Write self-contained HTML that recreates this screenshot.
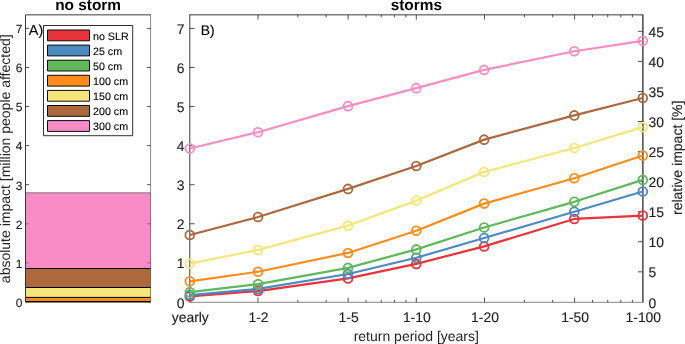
<!DOCTYPE html>
<html lang="en"><head><meta charset="utf-8"><title>Impact chart</title>
<style>html,body{margin:0;padding:0;background:#fff;overflow:hidden}svg{display:block;text-rendering:geometricPrecision}text{stroke:#222;stroke-width:0.14px}text.t,text.l{stroke:none}text.s{stroke-width:0.12px}</style></head>
<body>
<svg width="685" height="344" viewBox="0 0 685 344" font-family="'Liberation Sans', sans-serif" stroke-linejoin="round">
<rect width="685" height="344" fill="#fff"/>
<g id="left-plot">
<line x1="25.5" x2="29.0" y1="301.90" y2="301.90" stroke="#262626" stroke-width="0.8"/>
<line x1="150.6" x2="147.1" y1="301.90" y2="301.90" stroke="#262626" stroke-width="0.8"/>
<line x1="25.5" x2="29.0" y1="262.83" y2="262.83" stroke="#262626" stroke-width="0.8"/>
<line x1="150.6" x2="147.1" y1="262.83" y2="262.83" stroke="#262626" stroke-width="0.8"/>
<line x1="25.5" x2="29.0" y1="223.76" y2="223.76" stroke="#262626" stroke-width="0.8"/>
<line x1="150.6" x2="147.1" y1="223.76" y2="223.76" stroke="#262626" stroke-width="0.8"/>
<line x1="25.5" x2="29.0" y1="184.69" y2="184.69" stroke="#262626" stroke-width="0.8"/>
<line x1="150.6" x2="147.1" y1="184.69" y2="184.69" stroke="#262626" stroke-width="0.8"/>
<line x1="25.5" x2="29.0" y1="145.62" y2="145.62" stroke="#262626" stroke-width="0.8"/>
<line x1="150.6" x2="147.1" y1="145.62" y2="145.62" stroke="#262626" stroke-width="0.8"/>
<line x1="25.5" x2="29.0" y1="106.55" y2="106.55" stroke="#262626" stroke-width="0.8"/>
<line x1="150.6" x2="147.1" y1="106.55" y2="106.55" stroke="#262626" stroke-width="0.8"/>
<line x1="25.5" x2="29.0" y1="67.48" y2="67.48" stroke="#262626" stroke-width="0.8"/>
<line x1="150.6" x2="147.1" y1="67.48" y2="67.48" stroke="#262626" stroke-width="0.8"/>
<line x1="25.5" x2="29.0" y1="28.41" y2="28.41" stroke="#262626" stroke-width="0.8"/>
<line x1="150.6" x2="147.1" y1="28.41" y2="28.41" stroke="#262626" stroke-width="0.8"/>
<rect x="25.5" y="297.4" width="125.10" height="4.35" fill="#ff8c1a"/>
<rect x="25.5" y="287.5" width="125.10" height="9.90" fill="#f5e67a"/>
<rect x="25.5" y="268.5" width="125.10" height="19.00" fill="#ad683e"/>
<rect x="25.5" y="192.8" width="125.10" height="75.70" fill="#f98cc6"/>
<line x1="25.5" x2="150.6" y1="297.4" y2="297.4" stroke="#000" stroke-width="1"/>
<line x1="25.5" x2="150.6" y1="287.5" y2="287.5" stroke="#000" stroke-width="1"/>
<line x1="25.5" x2="150.6" y1="268.5" y2="268.5" stroke="#000" stroke-width="1"/>
<line x1="25.5" x2="150.6" y1="192.8" y2="192.8" stroke="#555" stroke-width="0.7"/>
<line x1="25.5" x2="150.6" y1="301.7" y2="301.7" stroke="#000" stroke-width="1.5"/>
<line x1="25.5" x2="29.0" y1="262.83" y2="262.83" stroke="#262626" stroke-width="0.8" stroke-opacity="0.5"/>
<line x1="150.6" x2="147.1" y1="262.83" y2="262.83" stroke="#262626" stroke-width="0.8" stroke-opacity="0.5"/>
<line x1="25.5" x2="29.0" y1="223.76" y2="223.76" stroke="#262626" stroke-width="0.8" stroke-opacity="0.5"/>
<line x1="150.6" x2="147.1" y1="223.76" y2="223.76" stroke="#262626" stroke-width="0.8" stroke-opacity="0.5"/>
<path d="M25.5 301.90000000000003 V14.85 H150.6" fill="none" stroke="#262626" stroke-width="0.9"/>
<line x1="150.6" x2="150.6" y1="14.45" y2="301.90000000000003" stroke="#262626" stroke-width="0.55"/>
<text x="22.4" y="306.75" class="s" font-size="12.0" fill="#222" text-anchor="end">0</text>
<text x="22.4" y="267.68" class="s" font-size="12.0" fill="#222" text-anchor="end">1</text>
<text x="22.4" y="228.61" class="s" font-size="12.0" fill="#222" text-anchor="end">2</text>
<text x="22.4" y="189.54" class="s" font-size="12.0" fill="#222" text-anchor="end">3</text>
<text x="22.4" y="150.47" class="s" font-size="12.0" fill="#222" text-anchor="end">4</text>
<text x="22.4" y="111.40" class="s" font-size="12.0" fill="#222" text-anchor="end">5</text>
<text x="22.4" y="72.33" class="s" font-size="12.0" fill="#222" text-anchor="end">6</text>
<text x="22.4" y="33.26" class="s" font-size="12.0" fill="#222" text-anchor="end">7</text>
<text x="28.8" y="35.21" font-size="14.4" fill="#000">A)</text>
<text x="88.05" y="10.1" font-size="15.4" class="t" font-weight="bold" fill="#000" text-anchor="middle">no storm</text>
<text class="l" transform="translate(10.4,158.75) rotate(-90)" font-size="14" fill="#262626" text-anchor="middle">absolute impact [million people affected]</text>
<rect x="43.5" y="25.5" width="89.2" height="110.2" fill="#fff" stroke="#262626" stroke-width="0.95"/>
<rect x="47.5" y="30.00" width="42" height="10.8" fill="#e8333a" stroke="#000" stroke-width="0.95"/>
<text x="93.0" y="39.83" font-size="10.7" fill="#000">no SLR</text>
<rect x="47.5" y="45.10" width="42" height="10.8" fill="#4a8bc2" stroke="#000" stroke-width="0.95"/>
<text x="93.0" y="54.93" font-size="10.7" fill="#000">25 cm</text>
<rect x="47.5" y="60.20" width="42" height="10.8" fill="#5fb85c" stroke="#000" stroke-width="0.95"/>
<text x="93.0" y="70.03" font-size="10.7" fill="#000">50 cm</text>
<rect x="47.5" y="75.30" width="42" height="10.8" fill="#ff8c1a" stroke="#000" stroke-width="0.95"/>
<text x="93.0" y="85.13" font-size="10.7" fill="#000">100 cm</text>
<rect x="47.5" y="90.40" width="42" height="10.8" fill="#f5e67a" stroke="#000" stroke-width="0.95"/>
<text x="93.0" y="100.23" font-size="10.7" fill="#000">150 cm</text>
<rect x="47.5" y="105.50" width="42" height="10.8" fill="#ad683e" stroke="#000" stroke-width="0.95"/>
<text x="93.0" y="115.33" font-size="10.7" fill="#000">200 cm</text>
<rect x="47.5" y="120.60" width="42" height="10.8" fill="#f98cc6" stroke="#000" stroke-width="0.95"/>
<text x="93.0" y="130.43" font-size="10.7" fill="#000">300 cm</text>
</g>
<g id="right-plot">
<line x1="189.8" x2="189.8" y1="14.45" y2="302.6" stroke="#262626" stroke-width="0.9"/>
<line x1="642.9" x2="642.9" y1="14.45" y2="302.6" stroke="#111" stroke-width="1.15"/>
<line x1="189.8" x2="642.8" y1="14.85" y2="14.85" stroke="#262626" stroke-width="0.9"/>
<line x1="189.8" x2="642.8" y1="302.3" y2="302.3" stroke="#262626" stroke-width="0.55"/>
<text x="184.60000000000002" y="307.53" font-size="13.9" fill="#222" text-anchor="end">0</text>
<line x1="189.8" x2="194.60000000000002" y1="262.83" y2="262.83" stroke="#262626" stroke-width="0.8"/>
<text x="184.60000000000002" y="268.46" font-size="13.9" fill="#222" text-anchor="end">1</text>
<line x1="189.8" x2="194.60000000000002" y1="223.76" y2="223.76" stroke="#262626" stroke-width="0.8"/>
<text x="184.60000000000002" y="229.39" font-size="13.9" fill="#222" text-anchor="end">2</text>
<line x1="189.8" x2="194.60000000000002" y1="184.69" y2="184.69" stroke="#262626" stroke-width="0.8"/>
<text x="184.60000000000002" y="190.32" font-size="13.9" fill="#222" text-anchor="end">3</text>
<line x1="189.8" x2="194.60000000000002" y1="145.62" y2="145.62" stroke="#262626" stroke-width="0.8"/>
<text x="184.60000000000002" y="151.25" font-size="13.9" fill="#222" text-anchor="end">4</text>
<line x1="189.8" x2="194.60000000000002" y1="106.55" y2="106.55" stroke="#262626" stroke-width="0.8"/>
<text x="184.60000000000002" y="112.18" font-size="13.9" fill="#222" text-anchor="end">5</text>
<line x1="189.8" x2="194.60000000000002" y1="67.48" y2="67.48" stroke="#262626" stroke-width="0.8"/>
<text x="184.60000000000002" y="73.11" font-size="13.9" fill="#222" text-anchor="end">6</text>
<line x1="189.8" x2="194.60000000000002" y1="28.41" y2="28.41" stroke="#262626" stroke-width="0.8"/>
<text x="184.60000000000002" y="34.04" font-size="13.9" fill="#222" text-anchor="end">7</text>
<text x="648.5" y="307.53" font-size="13.9" fill="#222">0</text>
<line x1="642.8" x2="638.0" y1="271.83" y2="271.83" stroke="#262626" stroke-width="0.8"/>
<text x="648.5" y="277.46" font-size="13.9" fill="#222">5</text>
<line x1="642.8" x2="638.0" y1="241.77" y2="241.77" stroke="#262626" stroke-width="0.8"/>
<text x="648.5" y="247.39" font-size="13.9" fill="#222">10</text>
<line x1="642.8" x2="638.0" y1="211.70" y2="211.70" stroke="#262626" stroke-width="0.8"/>
<text x="648.5" y="217.33" font-size="13.9" fill="#222">15</text>
<line x1="642.8" x2="638.0" y1="181.63" y2="181.63" stroke="#262626" stroke-width="0.8"/>
<text x="648.5" y="187.26" font-size="13.9" fill="#222">20</text>
<line x1="642.8" x2="638.0" y1="151.57" y2="151.57" stroke="#262626" stroke-width="0.8"/>
<text x="648.5" y="157.19" font-size="13.9" fill="#222">25</text>
<line x1="642.8" x2="638.0" y1="121.50" y2="121.50" stroke="#262626" stroke-width="0.8"/>
<text x="648.5" y="127.13" font-size="13.9" fill="#222">30</text>
<line x1="642.8" x2="638.0" y1="91.43" y2="91.43" stroke="#262626" stroke-width="0.8"/>
<text x="648.5" y="97.06" font-size="13.9" fill="#222">35</text>
<line x1="642.8" x2="638.0" y1="61.37" y2="61.37" stroke="#262626" stroke-width="0.8"/>
<text x="648.5" y="66.99" font-size="13.9" fill="#222">40</text>
<line x1="642.8" x2="638.0" y1="31.30" y2="31.30" stroke="#262626" stroke-width="0.8"/>
<text x="648.5" y="36.93" font-size="13.9" fill="#222">45</text>
<text x="190.30" y="322" font-size="13.9" fill="#222" text-anchor="middle">yearly</text>
<line x1="257.98" x2="257.98" y1="302.3" y2="297.5" stroke="#262626" stroke-width="0.8"/>
<line x1="257.98" x2="257.98" y1="14.85" y2="19.65" stroke="#262626" stroke-width="0.8"/>
<text x="258.48" y="322" font-size="13.9" fill="#222" text-anchor="middle">1-2</text>
<line x1="348.12" x2="348.12" y1="302.3" y2="297.5" stroke="#262626" stroke-width="0.8"/>
<line x1="348.12" x2="348.12" y1="14.85" y2="19.65" stroke="#262626" stroke-width="0.8"/>
<text x="348.62" y="322" font-size="13.9" fill="#222" text-anchor="middle">1-5</text>
<line x1="416.30" x2="416.30" y1="302.3" y2="297.5" stroke="#262626" stroke-width="0.8"/>
<line x1="416.30" x2="416.30" y1="14.85" y2="19.65" stroke="#262626" stroke-width="0.8"/>
<text x="416.80" y="322" font-size="13.9" fill="#222" text-anchor="middle">1-10</text>
<line x1="484.48" x2="484.48" y1="302.3" y2="297.5" stroke="#262626" stroke-width="0.8"/>
<line x1="484.48" x2="484.48" y1="14.85" y2="19.65" stroke="#262626" stroke-width="0.8"/>
<text x="484.98" y="322" font-size="13.9" fill="#222" text-anchor="middle">1-20</text>
<line x1="574.62" x2="574.62" y1="302.3" y2="297.5" stroke="#262626" stroke-width="0.8"/>
<line x1="574.62" x2="574.62" y1="14.85" y2="19.65" stroke="#262626" stroke-width="0.8"/>
<text x="575.12" y="322" font-size="13.9" fill="#222" text-anchor="middle">1-50</text>
<text x="643.30" y="322" font-size="13.9" fill="#222" text-anchor="middle">1-100</text>
<line x1="297.87" x2="297.87" y1="302.3" y2="299.90000000000003" stroke="#262626" stroke-width="0.8"/>
<line x1="297.87" x2="297.87" y1="14.85" y2="17.25" stroke="#262626" stroke-width="0.8"/>
<line x1="326.17" x2="326.17" y1="302.3" y2="299.90000000000003" stroke="#262626" stroke-width="0.8"/>
<line x1="326.17" x2="326.17" y1="14.85" y2="17.25" stroke="#262626" stroke-width="0.8"/>
<line x1="366.05" x2="366.05" y1="302.3" y2="299.90000000000003" stroke="#262626" stroke-width="0.8"/>
<line x1="366.05" x2="366.05" y1="14.85" y2="17.25" stroke="#262626" stroke-width="0.8"/>
<line x1="381.21" x2="381.21" y1="302.3" y2="299.90000000000003" stroke="#262626" stroke-width="0.8"/>
<line x1="381.21" x2="381.21" y1="14.85" y2="17.25" stroke="#262626" stroke-width="0.8"/>
<line x1="394.35" x2="394.35" y1="302.3" y2="299.90000000000003" stroke="#262626" stroke-width="0.8"/>
<line x1="394.35" x2="394.35" y1="14.85" y2="17.25" stroke="#262626" stroke-width="0.8"/>
<line x1="405.94" x2="405.94" y1="302.3" y2="299.90000000000003" stroke="#262626" stroke-width="0.8"/>
<line x1="405.94" x2="405.94" y1="14.85" y2="17.25" stroke="#262626" stroke-width="0.8"/>
<line x1="524.37" x2="524.37" y1="302.3" y2="299.90000000000003" stroke="#262626" stroke-width="0.8"/>
<line x1="524.37" x2="524.37" y1="14.85" y2="17.25" stroke="#262626" stroke-width="0.8"/>
<line x1="552.67" x2="552.67" y1="302.3" y2="299.90000000000003" stroke="#262626" stroke-width="0.8"/>
<line x1="552.67" x2="552.67" y1="14.85" y2="17.25" stroke="#262626" stroke-width="0.8"/>
<line x1="592.55" x2="592.55" y1="302.3" y2="299.90000000000003" stroke="#262626" stroke-width="0.8"/>
<line x1="592.55" x2="592.55" y1="14.85" y2="17.25" stroke="#262626" stroke-width="0.8"/>
<line x1="607.71" x2="607.71" y1="302.3" y2="299.90000000000003" stroke="#262626" stroke-width="0.8"/>
<line x1="607.71" x2="607.71" y1="14.85" y2="17.25" stroke="#262626" stroke-width="0.8"/>
<line x1="620.85" x2="620.85" y1="302.3" y2="299.90000000000003" stroke="#262626" stroke-width="0.8"/>
<line x1="620.85" x2="620.85" y1="14.85" y2="17.25" stroke="#262626" stroke-width="0.8"/>
<line x1="632.44" x2="632.44" y1="302.3" y2="299.90000000000003" stroke="#262626" stroke-width="0.8"/>
<line x1="632.44" x2="632.44" y1="14.85" y2="17.25" stroke="#262626" stroke-width="0.8"/>
<text x="416.30" y="10.1" font-size="15.4" class="t" font-weight="bold" fill="#000" text-anchor="middle">storms</text>
<text class="l" x="416.3" y="340.7" font-size="14" fill="#262626" text-anchor="middle">return period [years]</text>
<text class="s" transform="translate(682.4,157.8) rotate(-90)" font-size="14" fill="#262626" text-anchor="middle">relative impact [%]</text>
<text x="200.8" y="35.21" font-size="13.9" fill="#000">B)</text>
<polyline points="189.80,296.44 258.05,291.04 348.00,278.42 416.30,263.90 484.15,246.38 574.30,218.94 642.80,215.54" fill="none" stroke="#e8333a" stroke-width="2.2" stroke-linejoin="round"/>
<circle cx="189.80" cy="296.44" r="4.4" fill="none" stroke="#e8333a" stroke-width="1.8"/>
<circle cx="258.05" cy="291.04" r="4.4" fill="none" stroke="#e8333a" stroke-width="1.8"/>
<circle cx="348.00" cy="278.42" r="4.4" fill="none" stroke="#e8333a" stroke-width="1.8"/>
<circle cx="416.30" cy="263.90" r="4.4" fill="none" stroke="#e8333a" stroke-width="1.8"/>
<circle cx="484.15" cy="246.38" r="4.4" fill="none" stroke="#e8333a" stroke-width="1.8"/>
<circle cx="574.30" cy="218.94" r="4.4" fill="none" stroke="#e8333a" stroke-width="1.8"/>
<circle cx="642.80" cy="215.54" r="4.4" fill="none" stroke="#e8333a" stroke-width="1.8"/>
<polyline points="189.80,295.04 258.05,288.93 348.00,274.01 416.30,257.79 484.15,237.97 574.30,211.73 642.80,191.45" fill="none" stroke="#4a8bc2" stroke-width="2.2" stroke-linejoin="round"/>
<circle cx="189.80" cy="295.04" r="4.4" fill="none" stroke="#4a8bc2" stroke-width="1.8"/>
<circle cx="258.05" cy="288.93" r="4.4" fill="none" stroke="#4a8bc2" stroke-width="1.8"/>
<circle cx="348.00" cy="274.01" r="4.4" fill="none" stroke="#4a8bc2" stroke-width="1.8"/>
<circle cx="416.30" cy="257.79" r="4.4" fill="none" stroke="#4a8bc2" stroke-width="1.8"/>
<circle cx="484.15" cy="237.97" r="4.4" fill="none" stroke="#4a8bc2" stroke-width="1.8"/>
<circle cx="574.30" cy="211.73" r="4.4" fill="none" stroke="#4a8bc2" stroke-width="1.8"/>
<circle cx="642.80" cy="191.45" r="4.4" fill="none" stroke="#4a8bc2" stroke-width="1.8"/>
<polyline points="189.80,292.14 258.05,284.13 348.00,267.91 416.30,249.38 484.15,227.45 574.30,201.82 642.80,179.89" fill="none" stroke="#5fb85c" stroke-width="2.2" stroke-linejoin="round"/>
<circle cx="189.80" cy="292.14" r="4.4" fill="none" stroke="#5fb85c" stroke-width="1.8"/>
<circle cx="258.05" cy="284.13" r="4.4" fill="none" stroke="#5fb85c" stroke-width="1.8"/>
<circle cx="348.00" cy="267.91" r="4.4" fill="none" stroke="#5fb85c" stroke-width="1.8"/>
<circle cx="416.30" cy="249.38" r="4.4" fill="none" stroke="#5fb85c" stroke-width="1.8"/>
<circle cx="484.15" cy="227.45" r="4.4" fill="none" stroke="#5fb85c" stroke-width="1.8"/>
<circle cx="574.30" cy="201.82" r="4.4" fill="none" stroke="#5fb85c" stroke-width="1.8"/>
<circle cx="642.80" cy="179.89" r="4.4" fill="none" stroke="#5fb85c" stroke-width="1.8"/>
<polyline points="189.80,281.32 258.05,271.71 348.00,252.94 416.30,230.76 484.15,203.62 574.30,178.29 642.80,155.46" fill="none" stroke="#ff8c1a" stroke-width="2.2" stroke-linejoin="round"/>
<circle cx="189.80" cy="281.32" r="4.4" fill="none" stroke="#ff8c1a" stroke-width="1.8"/>
<circle cx="258.05" cy="271.71" r="4.4" fill="none" stroke="#ff8c1a" stroke-width="1.8"/>
<circle cx="348.00" cy="252.94" r="4.4" fill="none" stroke="#ff8c1a" stroke-width="1.8"/>
<circle cx="416.30" cy="230.76" r="4.4" fill="none" stroke="#ff8c1a" stroke-width="1.8"/>
<circle cx="484.15" cy="203.62" r="4.4" fill="none" stroke="#ff8c1a" stroke-width="1.8"/>
<circle cx="574.30" cy="178.29" r="4.4" fill="none" stroke="#ff8c1a" stroke-width="1.8"/>
<circle cx="642.80" cy="155.46" r="4.4" fill="none" stroke="#ff8c1a" stroke-width="1.8"/>
<polyline points="189.80,263.70 258.05,249.88 348.00,225.65 416.30,200.62 484.15,171.88 574.30,148.05 642.80,127.17" fill="none" stroke="#f5e67a" stroke-width="2.2" stroke-linejoin="round"/>
<circle cx="189.80" cy="263.70" r="4.4" fill="none" stroke="#f5e67a" stroke-width="1.8"/>
<circle cx="258.05" cy="249.88" r="4.4" fill="none" stroke="#f5e67a" stroke-width="1.8"/>
<circle cx="348.00" cy="225.65" r="4.4" fill="none" stroke="#f5e67a" stroke-width="1.8"/>
<circle cx="416.30" cy="200.62" r="4.4" fill="none" stroke="#f5e67a" stroke-width="1.8"/>
<circle cx="484.15" cy="171.88" r="4.4" fill="none" stroke="#f5e67a" stroke-width="1.8"/>
<circle cx="574.30" cy="148.05" r="4.4" fill="none" stroke="#f5e67a" stroke-width="1.8"/>
<circle cx="642.80" cy="127.17" r="4.4" fill="none" stroke="#f5e67a" stroke-width="1.8"/>
<polyline points="189.80,234.96 258.05,217.04 348.00,188.90 416.30,166.07 484.15,139.63 574.30,115.40 642.80,98.03" fill="none" stroke="#ad683e" stroke-width="2.2" stroke-linejoin="round"/>
<circle cx="189.80" cy="234.96" r="4.4" fill="none" stroke="#ad683e" stroke-width="1.8"/>
<circle cx="258.05" cy="217.04" r="4.4" fill="none" stroke="#ad683e" stroke-width="1.8"/>
<circle cx="348.00" cy="188.90" r="4.4" fill="none" stroke="#ad683e" stroke-width="1.8"/>
<circle cx="416.30" cy="166.07" r="4.4" fill="none" stroke="#ad683e" stroke-width="1.8"/>
<circle cx="484.15" cy="139.63" r="4.4" fill="none" stroke="#ad683e" stroke-width="1.8"/>
<circle cx="574.30" cy="115.40" r="4.4" fill="none" stroke="#ad683e" stroke-width="1.8"/>
<circle cx="642.80" cy="98.03" r="4.4" fill="none" stroke="#ad683e" stroke-width="1.8"/>
<polyline points="189.80,148.55 258.05,132.22 348.00,106.14 416.30,88.16 484.15,69.89 574.30,51.27 642.80,40.80" fill="none" stroke="#f98cc6" stroke-width="2.2" stroke-linejoin="round"/>
<circle cx="189.80" cy="148.55" r="4.4" fill="none" stroke="#f98cc6" stroke-width="1.8"/>
<circle cx="258.05" cy="132.22" r="4.4" fill="none" stroke="#f98cc6" stroke-width="1.8"/>
<circle cx="348.00" cy="106.14" r="4.4" fill="none" stroke="#f98cc6" stroke-width="1.8"/>
<circle cx="416.30" cy="88.16" r="4.4" fill="none" stroke="#f98cc6" stroke-width="1.8"/>
<circle cx="484.15" cy="69.89" r="4.4" fill="none" stroke="#f98cc6" stroke-width="1.8"/>
<circle cx="574.30" cy="51.27" r="4.4" fill="none" stroke="#f98cc6" stroke-width="1.8"/>
<circle cx="642.80" cy="40.80" r="4.4" fill="none" stroke="#f98cc6" stroke-width="1.8"/>
</g>
</svg>
</body></html>
